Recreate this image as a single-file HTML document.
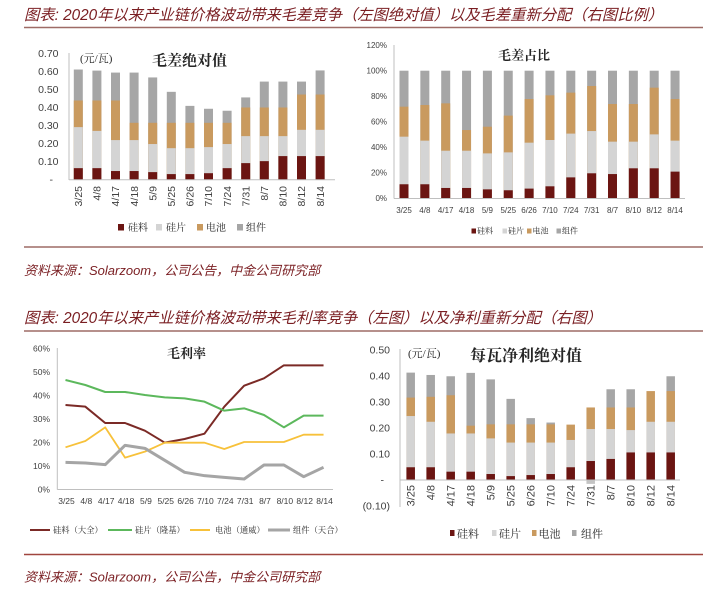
<!DOCTYPE html>
<html><head><meta charset="utf-8">
<style>
html,body{margin:0;padding:0;background:#fff;}
svg{display:block;}
.t{font-family:"Liberation Sans","Noto Sans CJK SC",sans-serif;font-style:italic;fill:#7a1e22;}
.ax{font-family:"Liberation Sans",sans-serif;fill:#404040;}
.cn{font-family:"Liberation Serif","Noto Serif CJK SC",serif;fill:#262626;}
</style></head>
<body>
<svg width="715" height="598" viewBox="0 0 715 598" xmlns="http://www.w3.org/2000/svg">
<!-- headers -->
<text class="t" x="24" y="20" font-size="15.3">图表: 2020年以来产业链价格波动带来毛差竞争（左图绝对值）以及毛差重新分配（右图比例）</text>
<line x1="24" y1="27.5" x2="703" y2="27.5" stroke="#9e6b66" stroke-width="1.5"/>
<line x1="24" y1="247" x2="703" y2="247" stroke="#9e6b66" stroke-width="1.5"/>
<text class="t" x="24" y="275" font-size="13">资料来源：Solarzoom，公司公告，中金公司研究部</text>
<text class="t" x="24" y="323" font-size="15.3">图表: 2020年以来产业链价格波动带来毛利率竞争（左图）以及净利重新分配（右图）</text>
<line x1="24" y1="331" x2="703" y2="331" stroke="#9e6b66" stroke-width="1.5"/>
<line x1="24" y1="554.5" x2="703" y2="554.5" stroke="#a0453e" stroke-width="1.5"/>
<text class="t" x="24" y="581.5" font-size="13">资料来源：Solarzoom，公司公告，中金公司研究部</text>

<!-- ===== Chart 1 ===== -->
<g class="ax" font-size="10.5" text-anchor="end">
<text x="58.5" y="57.2">0.70</text><text x="58.5" y="75.2">0.60</text><text x="58.5" y="93.2">0.50</text>
<text x="58.5" y="111.2">0.40</text><text x="58.5" y="129.2">0.30</text><text x="58.5" y="147.2">0.20</text>
<text x="58.5" y="165.2">0.10</text><text x="53" y="183.2">-</text>
</g>
<g transform="translate(0,179.5) scale(1,-180)">
<g fill="#a6a6a6">
<rect x="73.8" y="0" width="9" height="0.611"/><rect x="92.4" y="0" width="9" height="0.605"/><rect x="111" y="0" width="9" height="0.594"/><rect x="129.6" y="0" width="9" height="0.594"/><rect x="148.2" y="0" width="9" height="0.567"/><rect x="166.8" y="0" width="9" height="0.487"/><rect x="185.4" y="0" width="9" height="0.409"/><rect x="204" y="0" width="9" height="0.393"/><rect x="222.6" y="0" width="9" height="0.382"/><rect x="241.2" y="0" width="9" height="0.456"/><rect x="259.8" y="0" width="9" height="0.544"/><rect x="278.4" y="0" width="9" height="0.544"/><rect x="297" y="0" width="9" height="0.544"/><rect x="315.6" y="0" width="9" height="0.606"/>
</g>
<g fill="#c99a5f">
<rect x="73.8" y="0" width="9" height="0.439"/><rect x="92.4" y="0" width="9" height="0.439"/><rect x="111" y="0" width="9" height="0.439"/><rect x="129.6" y="0" width="9" height="0.315"/><rect x="148.2" y="0" width="9" height="0.315"/><rect x="166.8" y="0" width="9" height="0.315"/><rect x="185.4" y="0" width="9" height="0.315"/><rect x="204" y="0" width="9" height="0.315"/><rect x="222.6" y="0" width="9" height="0.315"/><rect x="241.2" y="0" width="9" height="0.40"/><rect x="259.8" y="0" width="9" height="0.40"/><rect x="278.4" y="0" width="9" height="0.40"/><rect x="297" y="0" width="9" height="0.472"/><rect x="315.6" y="0" width="9" height="0.472"/>
</g>
<g fill="#d4d4d4">
<rect x="73.8" y="0" width="9" height="0.291"/><rect x="92.4" y="0" width="9" height="0.27"/><rect x="111" y="0" width="9" height="0.219"/><rect x="129.6" y="0" width="9" height="0.219"/><rect x="148.2" y="0" width="9" height="0.197"/><rect x="166.8" y="0" width="9" height="0.174"/><rect x="185.4" y="0" width="9" height="0.174"/><rect x="204" y="0" width="9" height="0.18"/><rect x="222.6" y="0" width="9" height="0.197"/><rect x="241.2" y="0" width="9" height="0.241"/><rect x="259.8" y="0" width="9" height="0.241"/><rect x="278.4" y="0" width="9" height="0.241"/><rect x="297" y="0" width="9" height="0.276"/><rect x="315.6" y="0" width="9" height="0.276"/>
</g>
<g fill="#6b1512">
<rect x="73.8" y="0" width="9" height="0.063"/><rect x="92.4" y="0" width="9" height="0.063"/><rect x="111" y="0" width="9" height="0.047"/><rect x="129.6" y="0" width="9" height="0.047"/><rect x="148.2" y="0" width="9" height="0.041"/><rect x="166.8" y="0" width="9" height="0.030"/><rect x="185.4" y="0" width="9" height="0.030"/><rect x="204" y="0" width="9" height="0.035"/><rect x="222.6" y="0" width="9" height="0.063"/><rect x="241.2" y="0" width="9" height="0.091"/><rect x="259.8" y="0" width="9" height="0.102"/><rect x="278.4" y="0" width="9" height="0.13"/><rect x="297" y="0" width="9" height="0.13"/><rect x="315.6" y="0" width="9" height="0.13"/>
</g>
</g>
<line x1="69" y1="53" x2="69" y2="180" stroke="#bfbfbf" stroke-width="1"/>
<line x1="69" y1="179.8" x2="335" y2="179.8" stroke="#bfbfbf" stroke-width="1"/>
<g class="ax" font-size="10.5" text-anchor="end">
<text transform="translate(82,186) rotate(-90)">3/25</text>
<text transform="translate(100.6,186) rotate(-90)">4/8</text>
<text transform="translate(119.2,186) rotate(-90)">4/17</text>
<text transform="translate(137.8,186) rotate(-90)">4/18</text>
<text transform="translate(156.4,186) rotate(-90)">5/9</text>
<text transform="translate(175,186) rotate(-90)">5/25</text>
<text transform="translate(193.6,186) rotate(-90)">6/26</text>
<text transform="translate(212.2,186) rotate(-90)">7/10</text>
<text transform="translate(230.8,186) rotate(-90)">7/24</text>
<text transform="translate(249.4,186) rotate(-90)">7/31</text>
<text transform="translate(268,186) rotate(-90)">8/7</text>
<text transform="translate(286.6,186) rotate(-90)">8/10</text>
<text transform="translate(305.2,186) rotate(-90)">8/12</text>
<text transform="translate(323.8,186) rotate(-90)">8/14</text>
</g>
<text class="cn" x="80" y="62" font-size="11">(元/瓦)</text>
<text class="cn" x="152" y="65.5" font-size="15" font-weight="bold">毛差绝对值</text>
<rect x="118" y="224" width="6" height="6.5" fill="#6b1512"/><text class="cn" x="128" y="231" font-size="10">硅料</text>
<rect x="156" y="224" width="6" height="6.5" fill="#d4d4d4"/><text class="cn" x="166" y="231" font-size="10">硅片</text>
<rect x="197" y="224" width="6" height="6.5" fill="#c99a5f"/><text class="cn" x="206" y="231" font-size="10">电池</text>
<rect x="237" y="224" width="6" height="6.5" fill="#a6a6a6"/><text class="cn" x="246" y="231" font-size="10">组件</text>

<!-- ===== Chart 2 ===== -->
<g class="ax" font-size="8" text-anchor="end">
<text x="387" y="48">120%</text><text x="387" y="73.5">100%</text><text x="387" y="99">80%</text>
<text x="387" y="124.5">60%</text><text x="387" y="150">40%</text><text x="387" y="175.5">20%</text>
<text x="387" y="201">0%</text>
</g>
<g transform="translate(0,198.3) scale(1,-1.276)">
<g fill="#a6a6a6">
<rect x="399.5" y="0" width="9" height="100"/><rect x="420.35" y="0" width="9" height="100"/><rect x="441.2" y="0" width="9" height="100"/><rect x="462.05" y="0" width="9" height="100"/><rect x="482.9" y="0" width="9" height="100"/><rect x="503.75" y="0" width="9" height="100"/><rect x="524.6" y="0" width="9" height="100"/><rect x="545.45" y="0" width="9" height="100"/><rect x="566.3" y="0" width="9" height="100"/><rect x="587.15" y="0" width="9" height="100"/><rect x="608" y="0" width="9" height="100"/><rect x="628.85" y="0" width="9" height="100"/><rect x="649.7" y="0" width="9" height="100"/><rect x="670.55" y="0" width="9" height="100"/>
</g>
<g fill="#c99a5f">
<rect x="399.5" y="0" width="9" height="71.8"/><rect x="420.35" y="0" width="9" height="73.1"/><rect x="441.2" y="0" width="9" height="74.4"/><rect x="462.05" y="0" width="9" height="53.5"/><rect x="482.9" y="0" width="9" height="56.1"/><rect x="503.75" y="0" width="9" height="64.8"/><rect x="524.6" y="0" width="9" height="77.8"/><rect x="545.45" y="0" width="9" height="80.7"/><rect x="566.3" y="0" width="9" height="82.8"/><rect x="587.15" y="0" width="9" height="88"/><rect x="608" y="0" width="9" height="73.9"/><rect x="628.85" y="0" width="9" height="73.9"/><rect x="649.7" y="0" width="9" height="86.7"/><rect x="670.55" y="0" width="9" height="77.8"/>
</g>
<g fill="#d4d4d4">
<rect x="399.5" y="0" width="9" height="48.3"/><rect x="420.35" y="0" width="9" height="45.2"/><rect x="441.2" y="0" width="9" height="37.3"/><rect x="462.05" y="0" width="9" height="37.3"/><rect x="482.9" y="0" width="9" height="35.2"/><rect x="503.75" y="0" width="9" height="36"/><rect x="524.6" y="0" width="9" height="43.6"/><rect x="545.45" y="0" width="9" height="45.7"/><rect x="566.3" y="0" width="9" height="50.7"/><rect x="587.15" y="0" width="9" height="52.7"/><rect x="608" y="0" width="9" height="44.4"/><rect x="628.85" y="0" width="9" height="44.4"/><rect x="649.7" y="0" width="9" height="50.1"/><rect x="670.55" y="0" width="9" height="45.2"/>
</g>
<g fill="#6b1512">
<rect x="399.5" y="0" width="9" height="11"/><rect x="420.35" y="0" width="9" height="11"/><rect x="441.2" y="0" width="9" height="8.1"/><rect x="462.05" y="0" width="9" height="8.1"/><rect x="482.9" y="0" width="9" height="7"/><rect x="503.75" y="0" width="9" height="6.3"/><rect x="524.6" y="0" width="9" height="7.6"/><rect x="545.45" y="0" width="9" height="9.4"/><rect x="566.3" y="0" width="9" height="16.4"/><rect x="587.15" y="0" width="9" height="19.6"/><rect x="608" y="0" width="9" height="19"/><rect x="628.85" y="0" width="9" height="23.5"/><rect x="649.7" y="0" width="9" height="23.5"/><rect x="670.55" y="0" width="9" height="20.9"/>
</g>
</g>
<line x1="394" y1="45" x2="394" y2="198.5" stroke="#bfbfbf" stroke-width="1"/>
<line x1="394" y1="198.5" x2="685" y2="198.5" stroke="#bfbfbf" stroke-width="1"/>
<g class="ax" font-size="8" text-anchor="middle">
<text x="404" y="213">3/25</text><text x="424.85" y="213">4/8</text><text x="445.7" y="213">4/17</text>
<text x="466.55" y="213">4/18</text><text x="487.4" y="213">5/9</text><text x="508.25" y="213">5/25</text>
<text x="529.1" y="213">6/26</text><text x="549.95" y="213">7/10</text><text x="570.8" y="213">7/24</text>
<text x="591.65" y="213">7/31</text><text x="612.5" y="213">8/7</text><text x="633.35" y="213">8/10</text>
<text x="654.2" y="213">8/12</text><text x="675.05" y="213">8/14</text>
</g>
<text class="cn" x="498" y="60" font-size="13" font-weight="bold">毛差占比</text>
<rect x="471.5" y="228.5" width="4.5" height="5" fill="#6b1512"/><text class="cn" x="477" y="233.5" font-size="8">硅料</text>
<rect x="502.5" y="228.5" width="4.5" height="5" fill="#d4d4d4"/><text class="cn" x="508" y="233.5" font-size="8">硅片</text>
<rect x="527" y="228.5" width="4.5" height="5" fill="#c99a5f"/><text class="cn" x="532.5" y="233.5" font-size="8">电池</text>
<rect x="556.5" y="228.5" width="4.5" height="5" fill="#a6a6a6"/><text class="cn" x="562" y="233.5" font-size="8">组件</text>

<!-- ===== Chart 3 ===== -->
<g class="ax" font-size="8.5" text-anchor="end">
<text x="50" y="351.3">60%</text><text x="50" y="374.8">50%</text><text x="50" y="398.3">40%</text>
<text x="50" y="421.8">30%</text><text x="50" y="445.3">20%</text><text x="50" y="468.8">10%</text>
<text x="50" y="492.3">0%</text>
</g>
<line x1="57.3" y1="348" x2="57.3" y2="489.5" stroke="#bfbfbf" stroke-width="1"/>
<line x1="57.3" y1="489.5" x2="333" y2="489.5" stroke="#bfbfbf" stroke-width="1"/>
<g fill="none" stroke-linejoin="round">
<polyline stroke="#7b2a26" stroke-width="2" points="65.5,405 85.35,406.67 105.2,423 125.05,423 144.9,430.67 164.75,442.67 184.6,439 204.45,433.67 224.3,406.67 244.15,385.67 264,378.33 283.85,365.33 303.7,365.33 323.55,365.33"/>
<polyline stroke="#5cb85c" stroke-width="2" points="65.5,380 85.35,385 105.2,392 125.05,392 144.9,395 164.75,397.33 184.6,398.33 204.45,401.67 224.3,410.67 244.15,408.33 264,415 283.85,427.33 303.7,415.67 323.55,415.67"/>
<polyline stroke="#f7c13a" stroke-width="1.8" points="65.5,447.33 85.35,441 105.2,427.33 125.05,457.67 144.9,451.67 164.75,442.67 184.6,442.67 204.45,442.67 224.3,449 244.15,442 264,442 283.85,442 303.7,434.67 323.55,434.67"/>
<polyline stroke="#a5a5a5" stroke-width="3" points="65.5,462.33 85.35,463 105.2,464.67 125.05,445.33 144.9,448.33 164.75,460.33 184.6,472.33 204.45,475.67 224.3,477.33 244.15,479 264,465 283.85,465 303.7,476.67 323.55,467.33"/>
</g>
<g class="ax" font-size="8.5" text-anchor="middle">
<text x="66.5" y="504">3/25</text><text x="86.35" y="504">4/8</text><text x="106.2" y="504">4/17</text>
<text x="126.05" y="504">4/18</text><text x="145.9" y="504">5/9</text><text x="165.75" y="504">5/25</text>
<text x="185.6" y="504">6/26</text><text x="205.45" y="504">7/10</text><text x="225.3" y="504">7/24</text>
<text x="245.15" y="504">7/31</text><text x="265" y="504">8/7</text><text x="284.85" y="504">8/10</text>
<text x="304.7" y="504">8/12</text><text x="324.55" y="504">8/14</text>
</g>
<text class="cn" x="167" y="358" font-size="13" font-weight="bold">毛利率</text>
<line x1="30" y1="530" x2="50" y2="530" stroke="#7b2a26" stroke-width="2"/><text class="cn" x="53" y="533" font-size="8.3">硅料（大全）</text>
<line x1="108" y1="530" x2="132" y2="530" stroke="#5cb85c" stroke-width="2"/><text class="cn" x="135" y="533" font-size="8.3">硅片（隆基）</text>
<line x1="190" y1="530" x2="210" y2="530" stroke="#f7c13a" stroke-width="2"/><text class="cn" x="215" y="533" font-size="8.3">电池（通威）</text>
<line x1="268" y1="530" x2="290" y2="530" stroke="#a5a5a5" stroke-width="3"/><text class="cn" x="293" y="533" font-size="8.3">组件（天合）</text>

<!-- ===== Chart 4 ===== -->
<g class="ax" font-size="10.5" text-anchor="end">
<text x="390" y="353.7">0.50</text><text x="390" y="379.7">0.40</text><text x="390" y="405.7">0.30</text>
<text x="390" y="431.7">0.20</text><text x="390" y="457.7">0.10</text><text x="384" y="483.7">-</text>
<text x="390" y="509.7">(0.10)</text>
</g>
<g transform="translate(0,480) scale(1,-260)">
<g fill="#a6a6a6">
<rect x="406.45" y="0" width="8.5" height="0.413"/><rect x="426.45" y="0" width="8.5" height="0.404"/><rect x="446.45" y="0" width="8.5" height="0.399"/><rect x="466.45" y="0" width="8.5" height="0.412"/><rect x="486.45" y="0" width="8.5" height="0.387"/><rect x="506.45" y="0" width="8.5" height="0.312"/><rect x="526.45" y="0" width="8.5" height="0.238"/><rect x="546.45" y="0" width="8.5" height="0.221"/><rect x="606.45" y="0" width="8.5" height="0.349"/><rect x="626.45" y="0" width="8.5" height="0.349"/><rect x="666.45" y="0" width="8.5" height="0.399"/>
</g>
<rect x="586.45" y="-0.015" width="8.5" height="0.015" fill="#c4c4c4"/>
<g fill="#c99a5f">
<rect x="406.45" y="0" width="8.5" height="0.317"/><rect x="426.45" y="0" width="8.5" height="0.32"/><rect x="446.45" y="0" width="8.5" height="0.326"/><rect x="466.45" y="0" width="8.5" height="0.209"/><rect x="486.45" y="0" width="8.5" height="0.214"/><rect x="506.45" y="0" width="8.5" height="0.214"/><rect x="526.45" y="0" width="8.5" height="0.214"/><rect x="546.45" y="0" width="8.5" height="0.214"/><rect x="566.45" y="0" width="8.5" height="0.213"/><rect x="586.45" y="0" width="8.5" height="0.279"/><rect x="606.45" y="0" width="8.5" height="0.279"/><rect x="626.45" y="0" width="8.5" height="0.279"/><rect x="646.45" y="0" width="8.5" height="0.342"/><rect x="666.45" y="0" width="8.5" height="0.342"/>
</g>
<g fill="#d4d4d4">
<rect x="406.45" y="0" width="8.5" height="0.246"/><rect x="426.45" y="0" width="8.5" height="0.224"/><rect x="446.45" y="0" width="8.5" height="0.179"/><rect x="466.45" y="0" width="8.5" height="0.179"/><rect x="486.45" y="0" width="8.5" height="0.16"/><rect x="506.45" y="0" width="8.5" height="0.144"/><rect x="526.45" y="0" width="8.5" height="0.144"/><rect x="546.45" y="0" width="8.5" height="0.144"/><rect x="566.45" y="0" width="8.5" height="0.154"/><rect x="586.45" y="0" width="8.5" height="0.196"/><rect x="606.45" y="0" width="8.5" height="0.196"/><rect x="626.45" y="0" width="8.5" height="0.192"/><rect x="646.45" y="0" width="8.5" height="0.224"/><rect x="666.45" y="0" width="8.5" height="0.224"/>
</g>
<g fill="#6b1512">
<rect x="406.45" y="0" width="8.5" height="0.049"/><rect x="426.45" y="0" width="8.5" height="0.049"/><rect x="446.45" y="0" width="8.5" height="0.032"/><rect x="466.45" y="0" width="8.5" height="0.032"/><rect x="486.45" y="0" width="8.5" height="0.023"/><rect x="506.45" y="0" width="8.5" height="0.015"/><rect x="526.45" y="0" width="8.5" height="0.019"/><rect x="546.45" y="0" width="8.5" height="0.023"/><rect x="566.45" y="0" width="8.5" height="0.049"/><rect x="586.45" y="0" width="8.5" height="0.073"/><rect x="606.45" y="0" width="8.5" height="0.081"/><rect x="626.45" y="0" width="8.5" height="0.106"/><rect x="646.45" y="0" width="8.5" height="0.106"/><rect x="666.45" y="0" width="8.5" height="0.106"/>
</g>
</g>
<line x1="400" y1="349" x2="400" y2="507" stroke="#bfbfbf" stroke-width="1"/>
<line x1="400" y1="480" x2="680" y2="480" stroke="#bfbfbf" stroke-width="1"/>
<g class="ax" font-size="11" text-anchor="end">
<text transform="translate(414.7,485) rotate(-90)">3/25</text>
<text transform="translate(434.7,485) rotate(-90)">4/8</text>
<text transform="translate(454.7,485) rotate(-90)">4/17</text>
<text transform="translate(474.7,485) rotate(-90)">4/18</text>
<text transform="translate(494.7,485) rotate(-90)">5/9</text>
<text transform="translate(514.7,485) rotate(-90)">5/25</text>
<text transform="translate(534.7,485) rotate(-90)">6/26</text>
<text transform="translate(554.7,485) rotate(-90)">7/10</text>
<text transform="translate(574.7,485) rotate(-90)">7/24</text>
<text transform="translate(594.7,485) rotate(-90)">7/31</text>
<text transform="translate(614.7,485) rotate(-90)">8/7</text>
<text transform="translate(634.7,485) rotate(-90)">8/10</text>
<text transform="translate(654.7,485) rotate(-90)">8/12</text>
<text transform="translate(674.7,485) rotate(-90)">8/14</text>
</g>
<text class="cn" x="408" y="357" font-size="11">(元/瓦)</text>
<text class="cn" x="470" y="361" font-size="16" font-weight="bold">每瓦净利绝对值</text>
<rect x="450" y="530" width="4.5" height="6" fill="#6b1512"/><text class="cn" x="457" y="537.5" font-size="11">硅料</text>
<rect x="492" y="530" width="4.5" height="6" fill="#d4d4d4"/><text class="cn" x="499" y="537.5" font-size="11">硅片</text>
<rect x="532" y="530" width="4.5" height="6" fill="#c99a5f"/><text class="cn" x="538.5" y="537.5" font-size="11">电池</text>
<rect x="572" y="530" width="4.5" height="6" fill="#a6a6a6"/><text class="cn" x="581" y="537.5" font-size="11">组件</text>
</svg>
</body></html>
